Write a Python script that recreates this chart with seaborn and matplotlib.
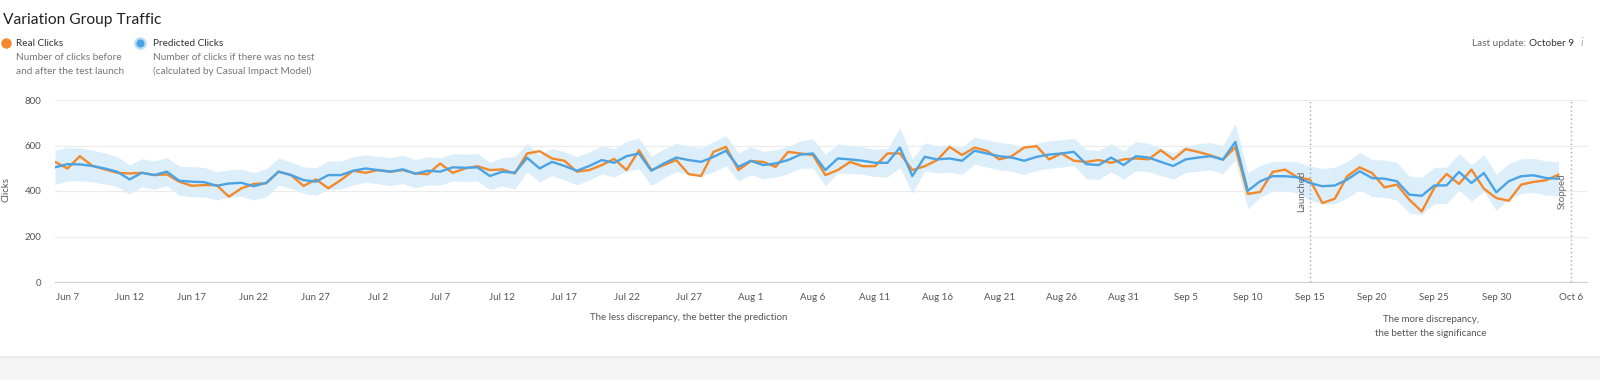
import matplotlib
matplotlib.use("Agg")
import matplotlib.pyplot as plt
from matplotlib.lines import Line2D
from matplotlib.patches import Rectangle
import seaborn as sns
import pandas as pd
import numpy as np

# ---------------- data ----------------
start_date = "2023-06-06"
real_clicks = [
    528, 499, 553, 511, 495, 480, 477, 480, 470, 473, 441, 423, 426, 426, 375, 412,
    431, 434, 485, 470, 422, 451, 412, 448, 489, 480, 492, 485, 492, 477, 474,
    521, 480, 499, 509, 492, 495, 477, 565, 575, 543, 533, 485, 492, 514, 541, 492,
    579, 492, 514, 536, 474, 466, 572, 594, 492, 531, 528, 506, 572, 565, 558,
    470, 492, 528, 509, 509, 565, 565, 492, 509, 536, 594, 558, 591, 577, 539, 553,
    591, 597, 539, 565, 533, 528, 536, 524, 539, 543, 539, 579, 539, 584, 572,
    557, 538, 593, 387, 396, 484, 494, 460, 450, 347, 366, 465, 504, 479, 416, 428,
    362, 310, 413, 475, 431, 494, 410, 369, 357, 428, 440, 447, 472,
]
predicted_clicks = [
    504, 518, 517, 510, 499, 485, 451, 480, 470, 485, 445, 441, 439, 423, 433, 436,
    421, 436, 485, 470, 448, 441, 470, 470, 489, 499, 492, 485, 495, 476, 489,
    485, 504, 502, 504, 466, 485, 480, 546, 499, 528, 510, 489, 510, 536, 524, 553,
    565, 489, 521, 547, 536, 528, 550, 577, 506, 533, 514, 521, 536, 560, 565,
    492, 543, 539, 533, 524, 524, 591, 466, 550, 539, 543, 533, 577, 565, 553, 547,
    533, 550, 560, 565, 572, 518, 514, 547, 514, 553, 547, 528, 510, 539, 547,
    553, 538, 616, 401, 443, 465, 465, 460, 435, 421, 424, 450, 487, 457, 454, 443,
    384, 379, 424, 425, 484, 435, 479, 394, 443, 465, 469, 457, 454,
]
band_half_width = [
    75, 74, 72, 70, 68, 66, 64, 62, 62, 62,
    64, 66, 65, 62, 60, 60, 60, 62, 60, 58,
    58, 60, 62, 62, 62, 60, 60, 62, 62, 62,
    62, 60, 60, 60, 60, 60, 62, 72, 62, 60,
    60, 62, 62, 62, 62, 62, 65, 68, 66, 64,
    62, 62, 62, 66, 66, 62, 62, 60, 60, 60,
    60, 64, 70, 64, 62, 60, 60, 62, 88, 75,
    62, 60, 60, 60, 60, 60, 60, 60, 60, 60,
    60, 60, 60, 64, 64, 62, 62, 64, 62, 60,
    58, 58, 60, 60, 62, 80, 80, 70, 65, 65,
    68, 75, 78, 80, 80, 82, 82, 82, 82, 82,
    82, 80, 80, 80, 80, 80, 80, 78, 76, 75, 75, 75,
]
tick_labels = ["Jun 7", "Jun 12", "Jun 17", "Jun 22", "Jun 27", "Jul 2", "Jul 7",
               "Jul 12", "Jul 17", "Jul 22", "Jul 27", "Aug 1", "Aug 6", "Aug 11",
               "Aug 16", "Aug 21", "Aug 26", "Aug 31", "Sep 5", "Sep 10", "Sep 15",
               "Sep 20", "Sep 25", "Sep 30", "Oct 6"]
y_ticks = [0, 200, 400, 600, 800]
launched_label = "Sep 15"
stopped_label = "Oct 6"

# ---------------- build ----------------
dates = pd.date_range(start_date, periods=len(real_clicks), freq="D")
df = pd.DataFrame({"date": dates, "real": real_clicks, "pred": predicted_clicks,
                   "half": band_half_width})
df["lo"] = df["pred"] - df["half"]
df["hi"] = df["pred"] + df["half"]

def to_date(lbl):
    return pd.to_datetime(lbl + " 2023", format="%b %d %Y")

tick_dates = [to_date(t) for t in tick_labels]

sns.set_theme(style="white")
plt.rcParams["font.family"] = ["Lato", "DejaVu Sans"]

W, H = 1600, 380
fig = plt.figure(figsize=(W / 100, H / 100), dpi=100)
fig.patch.set_facecolor("white")

def fx(px):
    return px / W

def fy(py):
    return 1 - py / H

ax = fig.add_axes([fx(55), fy(282), fx(1587) - fx(55), fy(100) - fy(282)])

ORANGE = "#f2892a"
BLUE = "#4ba3e3"
BAND = "#ddeefb"

ax.fill_between(df["date"], df["lo"], df["hi"], color=BAND, linewidth=0, zorder=1)
sns.lineplot(data=df, x="date", y="pred", color=BLUE, linewidth=1.7, ax=ax, zorder=3)
sns.lineplot(data=df, x="date", y="real", color=ORANGE, linewidth=1.7, ax=ax, zorder=2)

ax.set_ylim(0, 800)
ax.set_xlim(dates[0], dates[0] + pd.Timedelta(days=123.3))
ax.set_yticks(y_ticks)
ax.set_yticklabels([str(v) for v in y_ticks])
ax.set_xticks(tick_dates)
ax.set_xticklabels(tick_labels)
ax.tick_params(axis="both", length=0, labelsize=7, labelcolor="#555555")
ax.tick_params(axis="y", pad=10)
ax.tick_params(axis="x", pad=8)
ax.set_xlabel("")
ax.set_ylabel("")
ax.yaxis.grid(True, color="#ebebeb", linewidth=0.8)
ax.xaxis.grid(False)
for s in ["top", "right", "left"]:
    ax.spines[s].set_visible(False)
ax.spines["bottom"].set_color("#cfcfcf")
ax.spines["bottom"].set_linewidth(0.8)
ax.set_axisbelow(True)

for lbl, name, off in [(launched_label, "Launched", -6), (stopped_label, "Stopped", -6.5)]:
    d = to_date(lbl)
    ax.axvline(d, color="#a8a8a8", linestyle=(0, (1, 2)), linewidth=1.0, zorder=4)
    ax.annotate(name, xy=(d, 400), xytext=(off, 0), textcoords="offset points",
                rotation=90, ha="center", va="center", fontsize=7, color="#666666",
                zorder=5)

# y label
fig.text(fx(6), fy(190), "Clicks", rotation=90, ha="center", va="center",
         fontsize=7, color="#555555")

# title
fig.text(fx(3), fy(20), "Variation Group Traffic", ha="left", va="center",
         fontsize=11.2, color="#222222")

# legend
fig.add_artist(Line2D([fx(6)], [fy(43)], marker="o", markersize=6.5, color=ORANGE,
                      markeredgecolor=ORANGE, transform=fig.transFigure))
fig.add_artist(Line2D([fx(140)], [fy(43)], marker="o", markersize=7.5, color=BLUE,
                      markeredgecolor="#bfe0f7", markeredgewidth=1.6,
                      transform=fig.transFigure))
fig.text(fx(16), fy(43), "Real Clicks", ha="left", va="center", fontsize=7.2, color="#333333")
fig.text(fx(16), fy(57), "Number of clicks before", ha="left", va="center", fontsize=7.2, color="#777777")
fig.text(fx(16), fy(71), "and after the test launch", ha="left", va="center", fontsize=7.2, color="#777777")
fig.text(fx(153), fy(43), "Predicted Clicks", ha="left", va="center", fontsize=7.2, color="#333333")
fig.text(fx(153), fy(57), "Number of clicks if there was no test", ha="left", va="center", fontsize=7.2, color="#777777")
fig.text(fx(153), fy(71), "(calculated by Casual Impact Model)", ha="left", va="center", fontsize=7.2, color="#777777")

# last update
t_date = fig.text(fx(1574), fy(43), "October 9", ha="right", va="center", fontsize=7.2, color="#333333")
fig.canvas.draw()
bb = t_date.get_window_extent(fig.canvas.get_renderer())
fig.text((bb.x0 - 3) / W, fy(43), "Last update:", ha="right", va="center", fontsize=7.2, color="#666666")
fig.text(fx(1582), fy(42), "i", ha="center", va="center", fontsize=8, color="#aaaaaa", style="italic")

# annotations below
fig.text(fx(689), fy(318), "The less discrepancy, the better the prediction", ha="center",
         va="center", fontsize=7, color="#555555")
fig.text(fx(1431), fy(319), "The more discrepancy,", ha="center", va="center", fontsize=7, color="#555555")
fig.text(fx(1431), fy(333), "the better the significance", ha="center", va="center", fontsize=7, color="#555555")

# bottom card shadow
fig.add_artist(Rectangle((0, 0), 1, 1 - 357 / H, transform=fig.transFigure,
                         facecolor="#f5f5f5", edgecolor="none", zorder=0))
fig.add_artist(Line2D([0, 1], [fy(357), fy(357)], color="#ececec", linewidth=1.5,
                      transform=fig.transFigure))

fig.savefig("out.png", dpi=100)
